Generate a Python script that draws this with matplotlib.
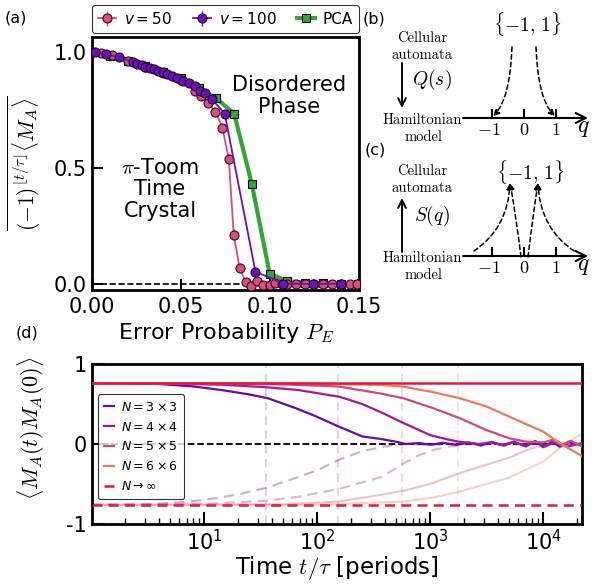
import numpy as np
import matplotlib.pyplot as plt
from matplotlib.path import Path
from matplotlib.patches import FancyArrowPatch

plt.rcParams['font.family'] = ['DejaVu Sans']
plt.rcParams['mathtext.fontset'] = 'dejavusans'

# ---------------- panel (a) data: order parameter vs error probability
pe_v50 = [0.0, 0.005, 0.011, 0.02, 0.03, 0.04, 0.05, 0.0579, 0.0616, 0.0654, 0.0695,
          0.0734, 0.077, 0.0798, 0.0831, 0.0865, 0.0897, 0.093, 0.0965, 0.1, 0.103,
          0.107, 0.11, 0.115, 0.12, 0.125, 0.13, 0.135, 0.14, 0.145, 0.149]
m_v50 = [1.0, 0.995, 0.987, 0.96, 0.935, 0.91, 0.88, 0.833, 0.81, 0.779, 0.743,
         0.674, 0.539, 0.211, 0.069, 0.009, -0.01, 0.014, -0.006, -0.004, 0.003,
         -0.002, 0.002, 0.0, -0.002, 0.001, 0.0, 0.0, 0.001, 0.0, 0.0]
err_v50 = [0.002, 0.002, 0.002, 0.002, 0.002, 0.003, 0.003, 0.004, 0.004, 0.005, 0.006,
           0.01, 0.02, 0.025, 0.012, 0.006, 0.004, 0.004, 0.003, 0.003, 0.003,
           0.003, 0.003, 0.003, 0.003, 0.003, 0.003, 0.003, 0.003, 0.003, 0.003]

pe_v100 = [0.0017, 0.0079, 0.0152, 0.0232, 0.0254, 0.0279, 0.0301, 0.0326, 0.0348,
           0.0372, 0.0397, 0.0423, 0.0453, 0.0481, 0.0513, 0.0547, 0.0579, 0.0607,
           0.0638, 0.0676, 0.0747, 0.092, 0.1075, 0.1244, 0.1403]
m_v100 = [1.0, 0.991, 0.977, 0.956, 0.95, 0.944, 0.937, 0.931, 0.925, 0.918, 0.912,
          0.905, 0.897, 0.887, 0.876, 0.865, 0.853, 0.833, 0.822, 0.796, 0.735,
          0.053, 0.002, 0.0, 0.001]
err_v100 = [0.002] * 20 + [0.005, 0.01, 0.003, 0.002, 0.002]

pe_pca = [0.0, 0.01, 0.02, 0.03, 0.04, 0.05, 0.06, 0.07, 0.08, 0.09, 0.10, 0.11,
          0.12, 0.13, 0.14, 0.15]
m_pca = [1.0, 0.985, 0.962, 0.94, 0.915, 0.888, 0.845, 0.80, 0.735, 0.43, 0.045,
         0.012, 0.006, 0.003, 0.001, 0.0]

# ---------------- panel (d) data: autocorrelation vs time
t_33 = [1, 2, 4, 8, 15, 25, 37, 64, 96, 154, 250, 376, 494, 606, 800, 1000, 1300,
        1700, 2200, 2800, 3500, 4500, 5500, 7000, 8500, 10000, 12000, 14000, 17000, 22000]
c_33 = [0.76, 0.76, 0.75, 0.72, 0.67, 0.62, 0.57, 0.45, 0.35, 0.22, 0.095, 0.06, 0.03,
        0.0, 0.012, -0.01, 0.015, -0.012, 0.02, -0.02, 0.025, -0.02, 0.03, -0.03,
        0.035, -0.04, 0.03, -0.035, 0.03, -0.02]
t_44 = [1, 5, 15, 35, 68, 158, 250, 376, 585, 795, 1000, 1400, 1766, 2700, 3400,
        4300, 5400, 6800, 8500, 10500, 13000, 16000, 22000]
c_44 = [0.76, 0.755, 0.74, 0.71, 0.675, 0.59, 0.50, 0.39, 0.26, 0.175, 0.11, 0.06,
        0.03, 0.0, 0.02, -0.015, 0.025, -0.02, 0.035, -0.03, 0.04, -0.035, 0.01]
t_55 = [1, 10, 50, 153, 351, 585, 1050, 1845, 3130, 5040, 7000, 10000, 12000,
        14500, 17500, 22000]
c_55 = [0.76, 0.76, 0.745, 0.72, 0.635, 0.57, 0.45, 0.32, 0.175, 0.07, 0.03, 0.02,
        0.05, -0.02, 0.04, -0.03]
t_66 = [1, 50, 351, 563, 1050, 1845, 3130, 5040, 7000, 10000, 13400, 17000, 22000]
c_66 = [0.76, 0.76, 0.74, 0.72, 0.65, 0.57, 0.47, 0.34, 0.25, 0.155, 0.03, -0.06, -0.15]

# lower (flipped initial state) branches
tl_33 = [1, 3, 6, 10, 20, 35, 60, 100, 154, 250, 400, 600, 1000, 2000, 5000, 22000]
cl_33 = [-0.76, -0.755, -0.73, -0.70, -0.63, -0.55, -0.44, -0.33, -0.2, -0.09,
         -0.03, 0.0, -0.01, 0.01, 0.0, 0.0]
tl_44 = [1, 10, 35, 68, 158, 376, 585, 795, 1100, 1500, 2200, 5000, 22000]
cl_44 = [-0.76, -0.75, -0.71, -0.66, -0.56, -0.41, -0.24, -0.14, -0.07, -0.03, 0.0,
         0.0, 0.0]
tl_55 = [1, 50, 153, 351, 600, 1050, 1845, 3130, 5040, 7000, 9500, 13000, 22000]
cl_55 = [-0.76, -0.755, -0.72, -0.64, -0.58, -0.49, -0.36, -0.26, -0.17, -0.08,
         -0.02, 0.0, 0.01]
tl_66 = [1, 100, 563, 1050, 1766, 3130, 5040, 7000, 10000, 14000, 22000]
cl_66 = [-0.76, -0.76, -0.72, -0.67, -0.60, -0.50, -0.42, -0.32, -0.22, -0.05, 0.13]

plateau = 0.76
t_cross = [35, 153, 563, 1766]

sizes = ['3', '4', '5', '6']
colors = ['#6a0aa8', '#a3199b', '#cf4879', '#ef7a58']
red = '#e5173f'
pink = '#d3507f'
purple = '#6c10b2'
green = '#37a339'

W, H = 605, 586
fig = plt.figure(figsize=(W / 100, H / 100), dpi=100)


def px_axes(l, t, r, b):
    return fig.add_axes([l / W, 1 - b / H, (r - l) / W, (b - t) / H])


# ================= panel (a)
ax = px_axes(92, 37, 359, 290)
ax.axhline(0, color='k', ls='--', lw=1.2, zorder=1)
ax.plot(pe_pca, m_pca, '-s', color=green, lw=3, ms=6, mec='k', mew=0.8,
        label='PCA', zorder=2)
ax.errorbar(pe_v50, m_v50, yerr=err_v50, fmt='-o', color=pink, lw=1.3, ms=6.5,
            mec='#3a0a1a', mew=0.8, elinewidth=1, capsize=0, label='$v = 50$', zorder=3)
ax.errorbar(pe_v100, m_v100, yerr=err_v100, fmt='-o', color=purple, lw=1.3, ms=6.5,
            mec='#20003a', mew=0.8, elinewidth=1, capsize=0, label='$v = 100$', zorder=4)
ax.set_xlim(0, 0.1503)
ax.set_ylim(-0.026, 1.065)
ax.set_xticks([0, 0.05, 0.10, 0.15])
ax.set_xticklabels(['0.00', '0.05', '0.10', '0.15'])
ax.set_yticks([0, 0.5, 1.0])
ax.set_yticklabels(['0.0', '0.5', '1.0'])
ax.tick_params(direction='in', length=8, width=1.5, labelsize=15)
ax.tick_params(axis='x', pad=5)
for s in ax.spines.values():
    s.set_linewidth(2)
ax.set_xlabel('Error Probability $P_E$', fontsize=16, math_fontfamily='cm', labelpad=3)
ax.set_ylabel(r'$\overline{(-1)^{\lfloor t/\tau \rfloor}\langle M_A \rangle}$',
              fontsize=15.5, math_fontfamily='cm')
ax.yaxis.set_label_coords(-0.185, 0.5)
ax.text(0.111, 0.81, 'Disordered\nPhase', ha='center', va='center', fontsize=15,
        linespacing=1.1)
ax.text(0.0383, 0.409, r'$\pi$-Toom' + '\nTime\nCrystal', ha='center', va='center',
        fontsize=15, linespacing=1.1, math_fontfamily='cm')
h, l = ax.get_legend_handles_labels()
order = [l.index('$v = 50$'), l.index('$v = 100$'), l.index('PCA')]
leg = ax.legend([h[i] for i in order], [l[i] for i in order], loc='lower left',
                bbox_to_anchor=(0, 1.016, 1, 0.1), mode='expand', ncol=3,
                borderaxespad=0, fontsize=11, handlelength=1.2, handletextpad=0.5,
                frameon=True, edgecolor='k', fancybox=True)
leg.get_frame().set_linewidth(0.8)

# ================= panel (d)
ad = px_axes(92, 364, 582, 524)
for t in t_cross:
    ad.axvline(t, color=colors[t_cross.index(t)], alpha=0.25, ls=(0, (5, 3.5)), lw=1.2,
               zorder=1)
ad.axhline(0, color='k', ls='--', lw=1.3, zorder=1)
lower = [(tl_33, cl_33), (tl_44, cl_44), (tl_55, cl_55), (tl_66, cl_66)]
for i, (tt, cc) in enumerate(lower):
    ad.plot(tt, cc, color=colors[i], alpha=0.35, lw=1.5,
            ls=(0, (5, 3)) if i < 2 else '-', zorder=2)
upper = [(t_33, c_33), (t_44, c_44), (t_55, c_55), (t_66, c_66)]
for i, (tt, cc) in enumerate(upper):
    ad.plot(tt, cc, color=colors[i], lw=1.6, zorder=3,
            label=r'$N = %s \times %s$' % (sizes[i], sizes[i]))
ad.axhline(plateau, color=red, lw=1.8, zorder=4)
ad.axhline(-plateau, color=red, lw=1.8, ls=(0, (4, 2.5)), zorder=4,
           label=r'$N \rightarrow \infty$')
ad.set_xscale('log')
ad.set_xlim(1.02, 2.2e4)
ad.set_ylim(-1, 1)
ad.set_yticks([-1, 0, 1])
ad.set_yticklabels(['-1', '0', '1'])
ad.tick_params(which='major', direction='in', length=9, width=1.5, labelsize=15)
ad.tick_params(which='minor', direction='in', length=4, width=1)
for s in ad.spines.values():
    s.set_linewidth(2)
ad.set_xlabel(r'Time $t/\tau$ [periods]', fontsize=16.5, math_fontfamily='cm', labelpad=0)
ad.set_ylabel(r'$\langle M_A(t) M_A(0) \rangle$', fontsize=16, math_fontfamily='cm')
ad.yaxis.set_label_coords(-0.092, 0.6)
leg2 = ad.legend(loc='upper left', bbox_to_anchor=(0.012, 0.81), fontsize=9,
                 handlelength=0.75, handletextpad=0.6, labelspacing=0.55,
                 frameon=True, edgecolor='k', fancybox=True, borderpad=0.5,
                 borderaxespad=0)
leg2.get_frame().set_linewidth(0.8)
leg2.set_zorder(10)

# ================= panels (b) and (c): schematic in pixel coordinates
ov = fig.add_axes([0, 0, 1, 1])
ov.set_xlim(0, W)
ov.set_ylim(H, 0)
ov.axis('off')
ov.patch.set_visible(False)

for lab, x, y in [('(a)', 16, 18), ('(b)', 374, 19), ('(c)', 375, 150), ('(d)', 27, 333)]:
    ov.text(x, y, lab, fontsize=11.5, ha='center', va='center')

serif = 'cmr10'


def schematic(y_top, y_axis, up, lbl):
    ov.text(422, y_top, 'Cellular', family=serif, fontsize=10.5, ha='center', va='center')
    ov.text(422, y_top + 17, 'automata', family=serif, fontsize=10.5, ha='center', va='center')
    ov.text(422, y_axis + 2, 'Hamiltonian', family=serif, fontsize=10.5, ha='center', va='center')
    ov.text(423, y_axis + 19, 'model', family=serif, fontsize=10.5, ha='center', va='center')
    a0, a1 = (y_top + 25, y_axis - 10)
    if up:
        a0, a1 = a1 + 6, a0 + 2
    ov.annotate('', xy=(402, a1), xytext=(402, a0),
                arrowprops=dict(arrowstyle='->', lw=1.4, color='k', mutation_scale=14,
                                shrinkA=0, shrinkB=0))
    ov.text(432, (y_top + y_axis) / 2 + 2, lbl, fontsize=14, ha='center', va='center',
            math_fontfamily='cm')
    ov.annotate('', xy=(588, y_axis), xytext=(463, y_axis),
                arrowprops=dict(arrowstyle='->', lw=1.5, color='k', mutation_scale=18,
                                shrinkA=0, shrinkB=0))
    for xt, tl in [(492, r'$-1$'), (524, r'$0$'), (556, r'$1$')]:
        ov.plot([xt, xt], [y_axis, y_axis - 8], color='k', lw=1.5)
        ov.text(xt - (3 if tl == r'$-1$' else 0), y_axis + 12, tl, fontsize=13,
                ha='center', va='center', math_fontfamily='cm')
    ov.text(583, y_axis + 9, r'$q$', fontsize=17, ha='center', va='center',
            math_fontfamily='cm')


def dashed_arrow(p0, p1, p2):
    path = Path([p0, p1, p2], [Path.MOVETO, Path.CURVE3, Path.CURVE3])
    arr = FancyArrowPatch(path=path, arrowstyle='-|>', mutation_scale=9, lw=1.1,
                          ls=(0, (3, 2)), color='k', shrinkA=0, shrinkB=0)
    ov.add_patch(arr)


schematic(38, 118, False, r'$Q(s)$')
ov.text(527, 24, r'$\{-1,\, 1\}$', fontsize=14, ha='center', va='center',
        math_fontfamily='cm')
dashed_arrow((512, 47), (510, 100), (493, 116))
dashed_arrow((536, 47), (538, 100), (555, 116))

schematic(171, 256, True, r'$S(q)$')
ov.text(530, 172, r'$\{-1,\, 1\}$', fontsize=14, ha='center', va='center',
        math_fontfamily='cm')
dashed_arrow((474, 251), (508, 228), (510, 183))
dashed_arrow((521, 257), (516, 215), (510, 183))
dashed_arrow((528, 257), (533, 215), (538, 183))
dashed_arrow((574, 251), (540, 228), (538, 183))

fig.savefig('out.png', dpi=100)
